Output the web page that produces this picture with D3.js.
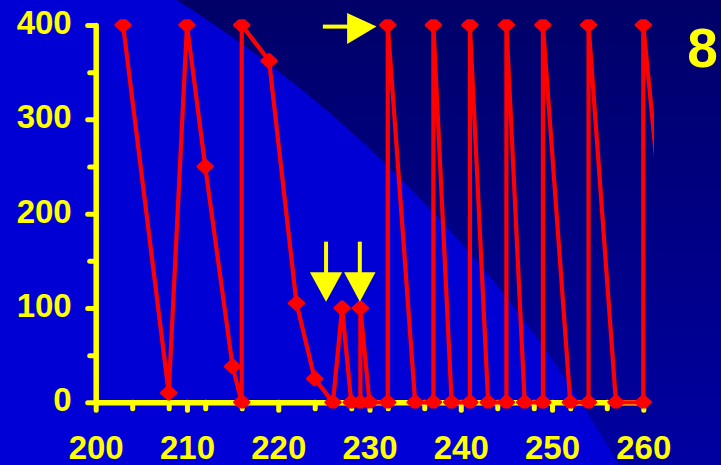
<!DOCTYPE html>
<html>
<head>
<meta charset="utf-8">
<script src="https://cdn.jsdelivr.net/npm/d3@7"></script>
<style>
  html, body { margin: 0; padding: 0; background: #0000d6; }
  svg { display: block; }
</style>
</head>
<body>
<svg id="chart" width="721" height="465"></svg>
<script>
// Observation days and measured values (connected in recording order)
const days   = [203, 208, 210, 212, 215, 216, 216, 219, 222, 224, 226, 227, 228, 229, 229, 230,
                232, 232, 235, 237, 237, 239, 241, 241, 243, 245, 245, 247, 249, 249, 252,
                254, 254, 257, 260, 260, 264];
const values = [400, 10, 400, 250, 38, 0, 400, 362, 105, 25, 0, 100, 0, 0, 100, 0,
                0, 400, 0, 0, 400, 0, 0, 400, 0, 0, 400, 0, 0, 400, 0,
                0, 400, 0, 0, 400, 0];

// Axis ticks
const xTickLabels = [200, 210, 220, 230, 240, 250, 260];
const xMinorTicks = [204, 208, 212, 216, 224, 228, 232, 236, 244, 248, 252, 256];
const yTickLabels = [0, 100, 200, 300, 400];
const yMinorTicks = [50, 150, 250, 350];

// Panel number
const panelLabel = "8";

const W = 721, H = 465;
const svg = d3.select("#chart");

const x = d3.scaleLinear().domain([200, 260]).range([95.7, 643.3]);
const y = d3.scaleLinear().domain([0, 400]).range([402.3, 25]);

// Background: dark navy field with a bright blue circular sweep from lower left
const defs = svg.append("defs");
const gDark = defs.append("linearGradient").attr("id", "bgDark")
  .attr("x1", 0).attr("y1", 0).attr("x2", 0).attr("y2", 1);
gDark.append("stop").attr("offset", "0%").attr("stop-color", "#000068");
gDark.append("stop").attr("offset", "100%").attr("stop-color", "#0000a2");
const gBright = defs.append("linearGradient").attr("id", "bgBright")
  .attr("x1", 0).attr("y1", 0).attr("x2", 0).attr("y2", 1);
gBright.append("stop").attr("offset", "0%").attr("stop-color", "#0000d4");
gBright.append("stop").attr("offset", "100%").attr("stop-color", "#0000dc");

svg.append("rect").attr("width", W).attr("height", H).attr("fill", "url(#bgDark)");
defs.append("clipPath").attr("id", "frame")
  .append("rect").attr("width", W).attr("height", H);
svg.append("g").attr("clip-path", "url(#frame)")
  .append("circle").attr("cx", -524).attr("cy", 1108).attr("r", 1311)
  .attr("fill", "url(#bgBright)");

const yellow = "#ffff00";
const fontFam = "'Liberation Sans', Arial, sans-serif";

function styleAxis(g, width) {
  g.selectAll(".domain").attr("stroke", yellow).attr("stroke-width", width)
    .attr("stroke-linecap", "round");
  g.selectAll(".tick line").attr("stroke", yellow).attr("stroke-width", 5)
    .attr("stroke-linecap", "round");
  g.selectAll("text").attr("fill", yellow)
    .style("font-family", fontFam).style("font-weight", "bold").style("font-size", "33px");
}

// Minor ticks
const gxMinor = svg.append("g").attr("transform", `translate(0,${y(0)})`)
  .call(d3.axisBottom(x).tickValues(xMinorTicks).tickSize(6.5).tickFormat(""));
gxMinor.select(".domain").remove();
styleAxis(gxMinor, 5.5);

const gyMinor = svg.append("g").attr("transform", `translate(${x(200)},0)`)
  .call(d3.axisLeft(y).tickValues(yMinorTicks).tickSize(6).tickFormat(""));
gyMinor.select(".domain").remove();
styleAxis(gyMinor, 5.5);

// Major axes with labels
const gx = svg.append("g").attr("transform", `translate(0,${y(0)})`)
  .call(d3.axisBottom(x).tickValues(xTickLabels).tickSize(8).tickSizeOuter(0).tickPadding(25));
styleAxis(gx, 5.5);
gx.selectAll("text").attr("dy", "0.71em");

const gy = svg.append("g").attr("transform", `translate(${x(200)},0)`)
  .call(d3.axisLeft(y).tickValues(yTickLabels).tickSize(8).tickSizeOuter(0).tickPadding(16));
styleAxis(gy, 5.5);
gy.selectAll("text").attr("dy", "0.26em");

// Data series
const pts = days.map((d, i) => [d, values[i]]);
defs.append("clipPath").attr("id", "plotClip")
  .append("rect").attr("x", 0).attr("y", 19.3).attr("width", 654).attr("height", 389.2);

const series = svg.append("g").attr("clip-path", "url(#plotClip)");
series.append("path")
  .datum(pts)
  .attr("fill", "none")
  .attr("stroke", "#ff0000")
  .attr("stroke-width", 4.2)
  .attr("stroke-linejoin", "round")
  .attr("d", d3.line().x(d => x(d[0])).y(d => y(d[1])));

// Diamond markers with slightly blunted corners
const diamond = "M-1.2,-7.6L1.2,-7.6L8.6,-0.8L8.6,0.8L1.2,7.6L-1.2,7.6L-8.6,0.8L-8.6,-0.8Z";
series.selectAll("path.marker")
  .data(pts)
  .join("path")
  .attr("class", "marker")
  .attr("d", diamond)
  .attr("transform", d => `translate(${x(d[0])},${y(d[1])})`)
  .attr("fill", "#ff0000");

// Arrow annotations (positioned in data units)
const ann = svg.append("g").attr("fill", yellow).attr("stroke", yellow);

// Horizontal arrow pointing at the first full spike
const hArrow = { x0: 224.89, xBase: 227.55, xTip: 230.77, v: 398.3 };
ann.append("line")
  .attr("x1", x(hArrow.x0)).attr("x2", x(hArrow.xBase) + 1)
  .attr("y1", y(hArrow.v)).attr("y2", y(hArrow.v))
  .attr("stroke-width", 4);
ann.append("path")
  .attr("stroke", "none")
  .attr("d", () => {
    const bx = x(hArrow.xBase), tx = x(hArrow.xTip), cy = y(hArrow.v);
    return `M${bx},${cy - 13.5}L${tx},${cy}L${bx},${cy + 17.5}Z`;
  });

// Downward arrows pointing at the two small peaks
const dArrows = [{ d: 225.24, w: 1.77 }, { d: 228.94, w: 1.72 }];
const dTop = 170.3, dBase = 137.9, dTip = 106.7;
dArrows.forEach(a => {
  ann.append("line")
    .attr("x1", x(a.d)).attr("x2", x(a.d))
    .attr("y1", y(dTop)).attr("y2", y(dBase) + 1)
    .attr("stroke-width", 4);
  ann.append("path")
    .attr("stroke", "none")
    .attr("d", `M${x(a.d - a.w)},${y(dBase)}L${x(a.d + a.w)},${y(dBase)}L${x(a.d)},${y(dTip)}Z`);
});

// Panel number
svg.append("text")
  .attr("x", 702.5).attr("y", 66.7)
  .attr("text-anchor", "middle")
  .attr("fill", yellow)
  .style("font-family", fontFam).style("font-weight", "bold").style("font-size", "55px")
  .text(panelLabel);
</script>
</body>
</html>
